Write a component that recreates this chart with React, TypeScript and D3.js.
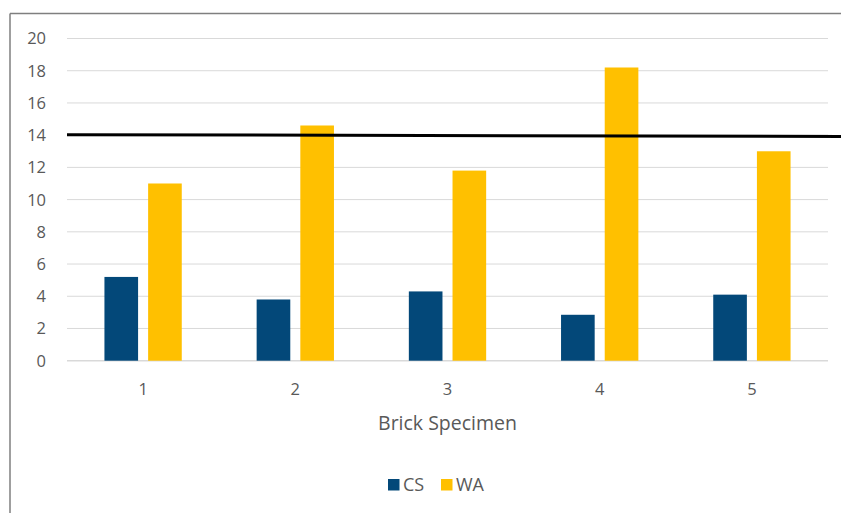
import React from "react";
import * as d3 from "d3";

const categories = ["1", "2", "3", "4", "5"];
const csValues = [5.2, 3.8, 4.3, 2.85, 4.1];
const waValues = [11.0, 14.6, 11.8, 18.2, 13.0];
const yTicks = [0, 2, 4, 6, 8, 10, 12, 14, 16, 18, 20];
const limitStart = 14.03;
const limitEnd = 13.92;
const seriesNames = ["CS", "WA"];
const seriesColors = ["#034879", "#FFC000"];

const W = 841;
const H = 513;
const plot = { left: 67, right: 828, top: 38.5, bottom: 360.7 };
const font = "'Open Sans', 'Noto Sans', sans-serif";

export default function App() {
  const x = d3
    .scaleBand<string>()
    .domain(categories)
    .range([plot.left, plot.right]);
  const y = d3.scaleLinear().domain([0, 20]).range([plot.bottom, plot.top]);
  const groupWidth = x.bandwidth() * 0.508;
  const inner = d3
    .scaleBand<string>()
    .domain(seriesNames)
    .range([0, groupWidth])
    .paddingInner(0.23);
  const groupOffset = (x.bandwidth() - groupWidth) / 2;
  const series = [csValues, waValues];

  return (
    <svg
      width={W}
      height={H}
      style={{ position: "absolute", left: 0, top: 0, background: "#fff" }}
    >
      {/* outer frame edges */}
      <line x1={10} y1={13.5} x2={W} y2={13.5} stroke="#7f7f7f" strokeWidth={1.5} />
      <line x1={10} y1={13.5} x2={10} y2={H} stroke="#7f7f7f" strokeWidth={1.5} />

      {/* gridlines and y labels */}
      {yTicks.map((t) => (
        <g key={t}>
          <line
            x1={plot.left}
            x2={plot.right}
            y1={y(t)}
            y2={y(t)}
            stroke="#d9d9d9"
            strokeWidth={t === 0 ? 1.5 : 1}
          />
          <text
            x={46}
            y={y(t)}
            dy="0.36em"
            textAnchor="end"
            fontFamily={font}
            fontSize={16.5}
            fill="#595959"
          >
            {t}
          </text>
        </g>
      ))}

      {/* bars */}
      {categories.map((c, i) => (
        <g key={c} transform={`translate(${(x(c) ?? 0) + groupOffset},0)`}>
          {seriesNames.map((s, k) => (
            <rect
              key={s}
              x={inner(s)}
              y={y(series[k][i])}
              width={inner.bandwidth()}
              height={y(0) - y(series[k][i])}
              fill={seriesColors[k]}
            />
          ))}
          <text
            x={x.bandwidth() / 2 - groupOffset}
            y={395}
            textAnchor="middle"
            fontFamily={font}
            fontSize={16.5}
            fill="#595959"
          >
            {c}
          </text>
        </g>
      ))}

      {/* limit line */}
      <line
        x1={plot.left}
        x2={W}
        y1={y(limitStart)}
        y2={y(limitEnd)}
        stroke="#000"
        strokeWidth={3}
      />

      {/* axis title */}
      <text
        x={447.5}
        y={430}
        textAnchor="middle"
        fontFamily={font}
        fontSize={19.5}
        fill="#595959"
      >
        Brick Specimen
      </text>

      {/* legend */}
      {seriesNames.map((s, k) => {
        const lx = [388, 441][k];
        return (
          <g key={s}>
            <rect x={lx} y={479} width={11.5} height={11.5} fill={seriesColors[k]} />
            <text
              x={lx + 15}
              y={491}
              fontFamily={font}
              fontSize={18}
              fill="#595959"
            >
              {s}
            </text>
          </g>
        );
      })}
    </svg>
  );
}
